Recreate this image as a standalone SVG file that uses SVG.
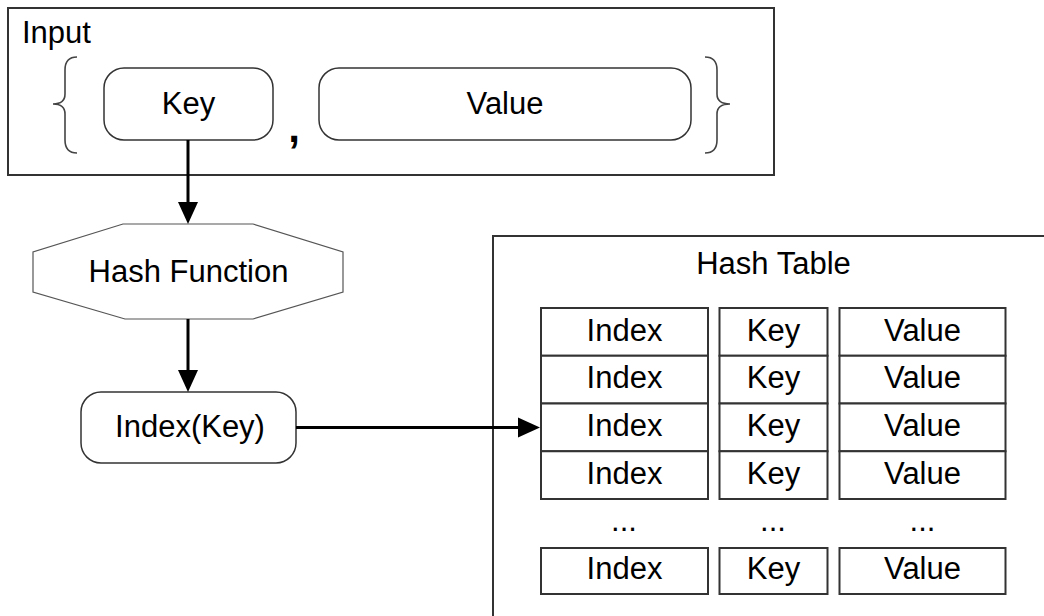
<svg xmlns="http://www.w3.org/2000/svg" width="1044" height="616" viewBox="0 0 1044 616">
  <style>
    text { font-family: "Liberation Sans", Arial, sans-serif; font-size: 31px; fill: #000; }
    .c { text-anchor: middle; }
    .frame { fill: #fff; stroke: #333; stroke-width: 2; }
    .pill { fill: #fff; stroke: #333; stroke-width: 1.5; }
    .oct { fill: #fff; stroke: #555; stroke-width: 1.2; }
    .brace { fill: none; stroke: #444; stroke-width: 1.6; }
    .cell { fill: #fff; stroke: #333; stroke-width: 2; }
    .edge { fill: none; stroke: #000; stroke-width: 3; }
  </style>
  <defs>
    <marker id="arrow" markerUnits="userSpaceOnUse" markerWidth="24" markerHeight="22" refX="10" refY="10" orient="auto" overflow="visible">
      <path d="M0,0 L22,10 L0,20 z" fill="#000"/>
    </marker>
  </defs>

  <rect width="1044" height="616" fill="#fff"/>

  <!-- Input record: { Key , Value } -->
  <g id="input">
    <rect class="frame" x="8" y="8" width="766" height="167"/>
    <text x="22" y="43">Input</text>
    <path class="brace" d="M77,57 Q65,57 65,70 L65,94 Q65,104 53,104 Q65,104 65,114 L65,140 Q65,153 77,153"/>
    <path class="brace" d="M705,57 Q717,57 717,70 L717,94 Q717,104 730,104 Q717,104 717,114 L717,140 Q717,153 705,153"/>
    <text x="294" y="142" class="c" style="font-size:42px;font-weight:bold">,</text>
  </g>
  <g id="input-key">
    <rect class="pill" x="104" y="68" width="169" height="72" rx="20"/>
    <text x="188.5" y="114" class="c">Key</text>
  </g>
  <g id="input-value">
    <rect class="pill" x="319" y="68" width="372" height="72" rx="20"/>
    <text x="505" y="114" class="c">Value</text>
  </g>

  <!-- Hash function -->
  <g id="hash-function">
    <polygon class="oct" points="123,224 253,224 343,252 343,292 253,319 125,319 33,292 33,252"/>
    <text x="188.5" y="282" class="c">Hash Function</text>
  </g>

  <!-- Computed index -->
  <g id="index-key">
    <rect class="pill" x="81" y="392" width="215" height="71" rx="20"/>
    <text x="190" y="437" class="c">Index(Key)</text>
  </g>

  <!-- Hash table -->
  <g id="hash-table">
    <rect class="frame" x="493" y="236" width="600" height="420"/>
    <text x="773.5" y="274" class="c">Hash Table</text>
    <g id="col-index">
      <rect class="cell" x="541" y="308" width="167" height="47.75"/>
      <rect class="cell" x="541" y="355.75" width="167" height="47.75"/>
      <rect class="cell" x="541" y="403.5" width="167" height="47.75"/>
      <rect class="cell" x="541" y="451.25" width="167" height="47.75"/>
      <rect class="cell" x="541" y="548" width="167" height="46"/>
      <text x="624.5" y="340.5" class="c">Index</text>
      <text x="624.5" y="388.3" class="c">Index</text>
      <text x="624.5" y="436" class="c">Index</text>
      <text x="624.5" y="483.8" class="c">Index</text>
      <text x="624" y="531" class="c">...</text>
      <text x="624.5" y="579" class="c">Index</text>
    </g>
    <g id="col-key">
      <rect class="cell" x="719.5" y="308" width="108" height="47.75"/>
      <rect class="cell" x="719.5" y="355.75" width="108" height="47.75"/>
      <rect class="cell" x="719.5" y="403.5" width="108" height="47.75"/>
      <rect class="cell" x="719.5" y="451.25" width="108" height="47.75"/>
      <rect class="cell" x="719.5" y="548" width="108" height="46"/>
      <text x="773.5" y="340.5" class="c">Key</text>
      <text x="773.5" y="388.3" class="c">Key</text>
      <text x="773.5" y="436" class="c">Key</text>
      <text x="773.5" y="483.8" class="c">Key</text>
      <text x="773" y="531" class="c">...</text>
      <text x="773.5" y="579" class="c">Key</text>
    </g>
    <g id="col-value">
      <rect class="cell" x="839.5" y="308" width="166" height="47.75"/>
      <rect class="cell" x="839.5" y="355.75" width="166" height="47.75"/>
      <rect class="cell" x="839.5" y="403.5" width="166" height="47.75"/>
      <rect class="cell" x="839.5" y="451.25" width="166" height="47.75"/>
      <rect class="cell" x="839.5" y="548" width="166" height="46"/>
      <text x="922.5" y="340.5" class="c">Value</text>
      <text x="922.5" y="388.3" class="c">Value</text>
      <text x="922.5" y="436" class="c">Value</text>
      <text x="922.5" y="483.8" class="c">Value</text>
      <text x="922.5" y="531" class="c">...</text>
      <text x="922.5" y="579" class="c">Value</text>
    </g>
  </g>

  <!-- Connectors -->
  <g id="connectors">
    <line class="edge" x1="188" y1="140" x2="188" y2="212" marker-end="url(#arrow)"/>
    <line class="edge" x1="188" y1="319" x2="188" y2="380" marker-end="url(#arrow)"/>
    <line class="edge" x1="296" y1="427.5" x2="528" y2="427.5" marker-end="url(#arrow)"/>
  </g>
</svg>
